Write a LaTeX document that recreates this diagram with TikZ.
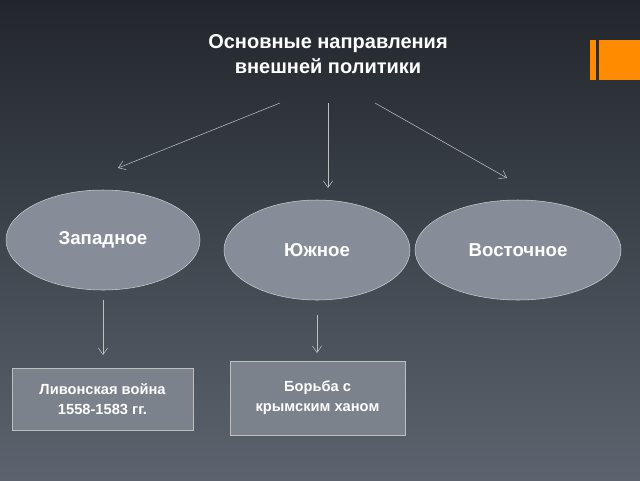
\documentclass[tikz,border=0pt]{standalone}
\usepackage{fontspec}
\setmainfont{Liberation Sans}
\usetikzlibrary{arrows.meta,shapes.geometric}
\definecolor{bgtop}{HTML}{22262C}
\definecolor{bgbot}{HTML}{5B646E}
\definecolor{ellfill}{HTML}{878D98}
\definecolor{boxfill}{HTML}{7C828B}
\definecolor{orbar}{HTML}{FF8C00}
\tikzset{
  dir/.style={ellipse, draw=gray!40, fill=ellfill, text=white, font=\bfseries\fontsize{14}{16}\selectfont},
  fact/.style={draw=gray!50, fill=boxfill, text=white, align=center, font=\bfseries\fontsize{11}{15}\selectfont},
  arr/.style={draw=gray!50, -{Straight Barb[length=5pt,width=7pt]}}
}
\begin{document}
\begin{tikzpicture}[x=0.75pt,y=-0.75pt]

\shade[top color=bgtop, bottom color=bgbot] (0,0) rectangle (640,480);
\useasboundingbox (0,0) rectangle (640,480);

\fill[orbar] (590,40) rectangle (596,80);
\fill[orbar] (599,40) rectangle (640,80);

\node[text=white, align=center, font=\bfseries\fontsize{15}{19}\selectfont] (title) at (328,54) {Основные направления\\внешней политики};

\coordinate (t1) at (280,103);
\coordinate (t2) at (328,103);
\coordinate (t3) at (375,103);

\node[dir, minimum width=194pt*0.75, minimum height=100pt*0.75] (west) at (103,240) {Западное};
\node[dir, minimum width=186pt*0.75, minimum height=100pt*0.75] (south) at (317,250) {Южное};
\node[dir, minimum width=206pt*0.75, minimum height=100pt*0.75] (east) at (518,250) {Восточное};

\node[fact, minimum width=181pt*0.75, minimum height=62pt*0.75] (livon) at (102.5,399) {Ливонская война\\1558-1583 гг.};
\node[fact, minimum width=175pt*0.75, minimum height=74pt*0.75] (krym) at (317.5,398) {Борьба с\\крымским ханом};

\coordinate (w1) at (103,300);
\coordinate (w2) at (103,355);
\coordinate (s1) at (317,315);
\coordinate (s2) at (317,353);
\coordinate (a1) at (118,168);
\coordinate (a2) at (328,188);
\coordinate (a3) at (507,178);

\draw[arr] (t1) -- (a1);
\draw[arr] (t2) -- (a2);
\draw[arr] (t3) -- (a3);
\draw[arr] (w1) -- (w2);
\draw[arr] (s1) -- (s2);

\end{tikzpicture}
\end{document}
